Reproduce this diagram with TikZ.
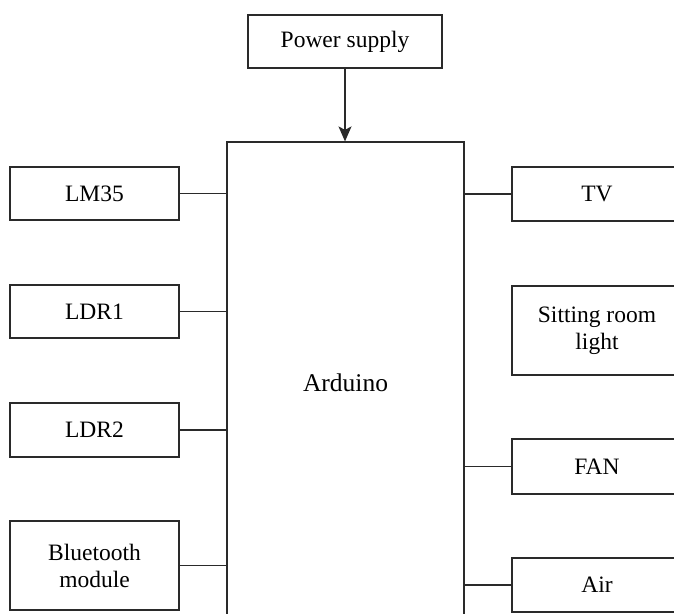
\documentclass[tikz,border=0pt]{standalone}
\usepackage{fontspec}
\setmainfont{Liberation Serif}
\usetikzlibrary{arrows.meta}
\definecolor{ln}{HTML}{2a2a2a}
\tikzset{
  blk/.style={draw=ln, line width=1.2pt, rectangle, inner sep=0pt, align=center,
    font=\fontsize{23.5}{27}\selectfont, text=black},
  conn/.style={draw=ln, line width=1.2pt},
}
\begin{document}
\begin{tikzpicture}[x=1pt,y=-1pt]
\useasboundingbox (0,0) rectangle (674,613);
\clip (0,0) rectangle (674,613);
\fill[white] (0,0) rectangle (674,613);
\node[blk, minimum width=194pt, minimum height=53pt] (ps) at (345,41.5) {Power supply};
\node[blk, minimum width=237pt, minimum height=482pt, font=\fontsize{25.5}{29}\selectfont] (ard) at (345.5,383) {Arduino};
% left
\node[blk, minimum width=169pt, minimum height=53pt] (lm) at (94.5,193.5) {LM35};
\node[blk, minimum width=169pt, minimum height=53pt] (ldra) at (94.5,311.5) {LDR1};
\node[blk, minimum width=169pt, minimum height=54pt] (ldrb) at (94.5,430) {LDR2};
\node[blk, minimum width=169pt, minimum height=89pt] (bt) at (94.5,565.5) {Bluetooth\\module};
% right
\node[blk, minimum width=170pt, minimum height=54pt] (tv) at (597,194) {TV};
\node[blk, minimum width=170pt, minimum height=89pt] (srl) at (597,330.5) {Sitting room\\light};
\node[blk, minimum width=170pt, minimum height=55pt] (fan) at (597,466.5) {FAN};
\node[blk, minimum width=170pt, minimum height=54pt] (air) at (597,585) {Air};
% connectors
\draw[conn, -{Stealth[length=15pt, width=13pt, inset=3.5pt]}] (ps.south) -- (ps.south |- ard.north);
\draw[conn] (lm.east) -- (lm.east -| ard.west);
\draw[conn] (ldra.east) -- (ldra.east -| ard.west);
\draw[conn] (ldrb.east) -- (ldrb.east -| ard.west);
\draw[conn] (bt.east) -- (bt.east -| ard.west);
\draw[conn] (tv.west) -- (tv.west -| ard.east);
\draw[conn] (fan.west) -- (fan.west -| ard.east);
\draw[conn] (air.west) -- (air.west -| ard.east);
\end{tikzpicture}
\end{document}
